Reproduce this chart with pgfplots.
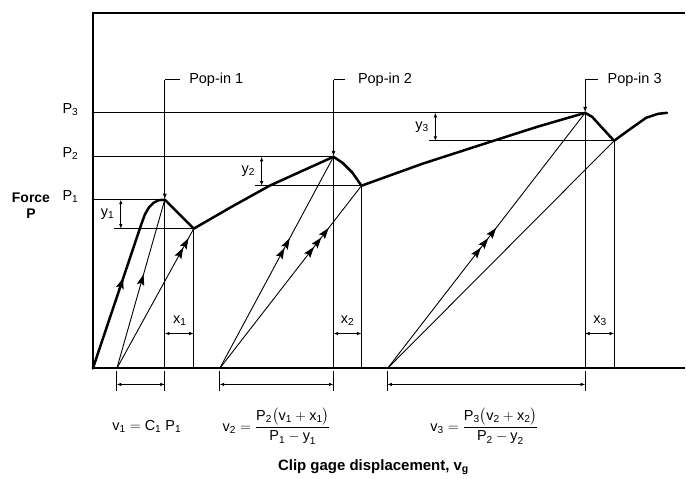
\documentclass[border=0pt]{standalone}
\usepackage{amsmath}
\usepackage{pgfplots}
\pgfplotsset{compat=1.18}
\usepackage{fontspec}
\setmainfont{Liberation Sans}
\usetikzlibrary{arrows.meta, decorations.markings}

\tikzset{
  tl/.style={black, line width=0.9pt, mark=none},
  tk/.style={black, line width=2.5pt, mark=none, line join=round, line cap=round},
  dim/.style={black, line width=0.7pt, {Latex[length=4.5pt,width=3.5pt]}-{Latex[length=4.5pt,width=3.5pt]}},
  lead/.style={black, line width=0.8pt, -{Latex[length=5.5pt,width=4pt]}},
  ext/.style={black, line width=0.8pt},
}
\newcommand{\ah}{\arrow{Stealth[length=11pt,width=7.5pt,inset=2pt]}}

\begin{document}
\begin{tikzpicture}[every node/.style={font=\fontsize{14.5}{17}\selectfont}]
\begin{axis}[x=1pt, y=1pt, xmin=0, xmax=593, ymin=0, ymax=356,
  hide axis, clip=false]

% force-displacement record
\addplot[tk, postaction={decorate},
  decoration={markings, mark=at position 96pt with {\ah}}] coordinates {
  (0,0) (45,134) (48,143) (52,154) (56,161) (61,166) (66,168.5) (72,169)
  (86,155) (101,140) (140,162.5) (177,183) (210,198) (241,212)
  (250,206) (260,196) (269,183) (330,205) (395,226) (445,242) (493,256)
  (500,252) (510,241) (522,228) (537,239) (554,251) (566,255) (575,256)
};

% load levels
\addplot[tl] coordinates {(0,169) (72,169)};
\addplot[tl] coordinates {(0,212) (241,212)};
\addplot[tl] coordinates {(0,256) (493,256)};
% post pop-in levels
\addplot[tl] coordinates {(21,140) (101,140)};
\addplot[tl] coordinates {(162,183) (269,183)};
\addplot[tl] coordinates {(337,228) (522,228)};

% secant lines, pop-in 1
\addplot[tl, postaction={decorate},
  decoration={markings, mark=at position 98pt with {\ah}}] coordinates {(24,0) (72,169)};
\addplot[tl, postaction={decorate},
  decoration={markings, mark=at position 138pt with {\ah}, mark=at position 149pt with {\ah}}]
  coordinates {(24,0) (101,140)};
% secant lines, pop-in 2
\addplot[tl, postaction={decorate},
  decoration={markings, mark=at position 137pt with {\ah}, mark=at position 148pt with {\ah}}]
  coordinates {(127,0) (241,212)};
\addplot[tl, postaction={decorate},
  decoration={markings, mark=at position 154pt with {\ah}, mark=at position 166pt with {\ah},
    mark=at position 178pt with {\ah}}]
  coordinates {(127,0) (269,183)};
% secant lines, pop-in 3
\addplot[tl, postaction={decorate},
  decoration={markings, mark=at position 153pt with {\ah}, mark=at position 165pt with {\ah},
    mark=at position 178pt with {\ah}}]
  coordinates {(295,0) (493,256)};
\addplot[tl] coordinates {(295,0) (522,228)};

% verticals
\addplot[tl] coordinates {(72,0) (72,169)};
\addplot[tl] coordinates {(101,0) (101,140)};
\addplot[tl] coordinates {(241,0) (241,212)};
\addplot[tl] coordinates {(269,0) (269,183)};
\addplot[tl] coordinates {(493,0) (493,256)};
\addplot[tl] coordinates {(522,0) (522,228)};

% frame
\draw[line width=2pt] (axis cs:593,356) -- (axis cs:0,356) -- (axis cs:0,0) -- (axis cs:593,0);
\path (axis cs:-93,-108) rectangle (axis cs:593,369);

% pop-in leaders
\draw[line width=0.8pt] (axis cs:87,289) -- (axis cs:72,289);
\draw[lead] (axis cs:72,289) -- (axis cs:72,169.5);
\node[anchor=west] at (axis cs:93,289) {Pop-in 1};
\draw[line width=0.8pt] (axis cs:253,289) -- (axis cs:241,289);
\draw[lead] (axis cs:241,289) -- (axis cs:241,212.5);
\node[anchor=west] at (axis cs:262,289) {Pop-in 2};
\draw[line width=0.8pt] (axis cs:506,289) -- (axis cs:493,289);
\draw[lead] (axis cs:493,289) -- (axis cs:493,256.5);
\node[anchor=west] at (axis cs:512,289) {Pop-in 3};

% load labels
\node[anchor=east] at (axis cs:-11,172) {P\textsubscript{1}};
\node[anchor=east] at (axis cs:-11,215) {P\textsubscript{2}};
\node[anchor=east] at (axis cs:-11,259) {P\textsubscript{3}};
\node[align=center, font=\fontsize{14}{17}\selectfont\bfseries] at (axis cs:-62,163) {Force\\P};

% y dimensions
\draw[dim] (axis cs:28,169) -- (axis cs:28,140);
\node[anchor=east] at (axis cs:25,155) {y\textsubscript{1}};
\draw[dim] (axis cs:169,212) -- (axis cs:169,183);
\node[anchor=east] at (axis cs:166,198) {y\textsubscript{2}};
\draw[dim] (axis cs:343,256) -- (axis cs:343,228);
\node[anchor=east] at (axis cs:340,242) {y\textsubscript{3}};

% x dimensions
\draw[dim] (axis cs:72,35) -- (axis cs:101,35);
\node at (axis cs:87,48) {x\textsubscript{1}};
\draw[dim] (axis cs:241,35) -- (axis cs:269,35);
\node at (axis cs:255,48) {x\textsubscript{2}};
\draw[dim] (axis cs:493,35) -- (axis cs:522,35);
\node at (axis cs:508,48) {x\textsubscript{3}};

% v dimensions below the axis
\draw[ext] (axis cs:24,-3) -- (axis cs:24,-23);
\draw[ext] (axis cs:72,-3) -- (axis cs:72,-23);
\draw[dim] (axis cs:24,-16) -- (axis cs:72,-16);
\draw[ext] (axis cs:127,-3) -- (axis cs:127,-23);
\draw[ext] (axis cs:241,-3) -- (axis cs:241,-23);
\draw[dim] (axis cs:127,-16) -- (axis cs:241,-16);
\draw[ext] (axis cs:295,-3) -- (axis cs:295,-23);
\draw[ext] (axis cs:493,-3) -- (axis cs:493,-23);
\draw[dim] (axis cs:295,-16) -- (axis cs:493,-16);

\node at (axis cs:54,-58) {v\textsubscript{1} $=$ C\textsubscript{1} P\textsubscript{1}};
\node at (axis cs:184,-58) {$\text{v}_{\text{2}} = \dfrac{\text{P}_{\text{2}}\bigl(\text{v}_{\text{1}} + \text{x}_{\text{1}}\bigr)}{\text{P}_{\text{1}} - \text{y}_{\text{1}}}$};
\node at (axis cs:392,-58) {$\text{v}_{\text{3}} = \dfrac{\text{P}_{\text{3}}\bigl(\text{v}_{\text{2}} + \text{x}_{\text{2}}\bigr)}{\text{P}_{\text{2}} - \text{y}_{\text{2}}}$};
\node[font=\fontsize{15}{17}\selectfont\bfseries] at (axis cs:281,-99) {Clip gage displacement, v\textsubscript{g}};

\end{axis}
\end{tikzpicture}
\end{document}
